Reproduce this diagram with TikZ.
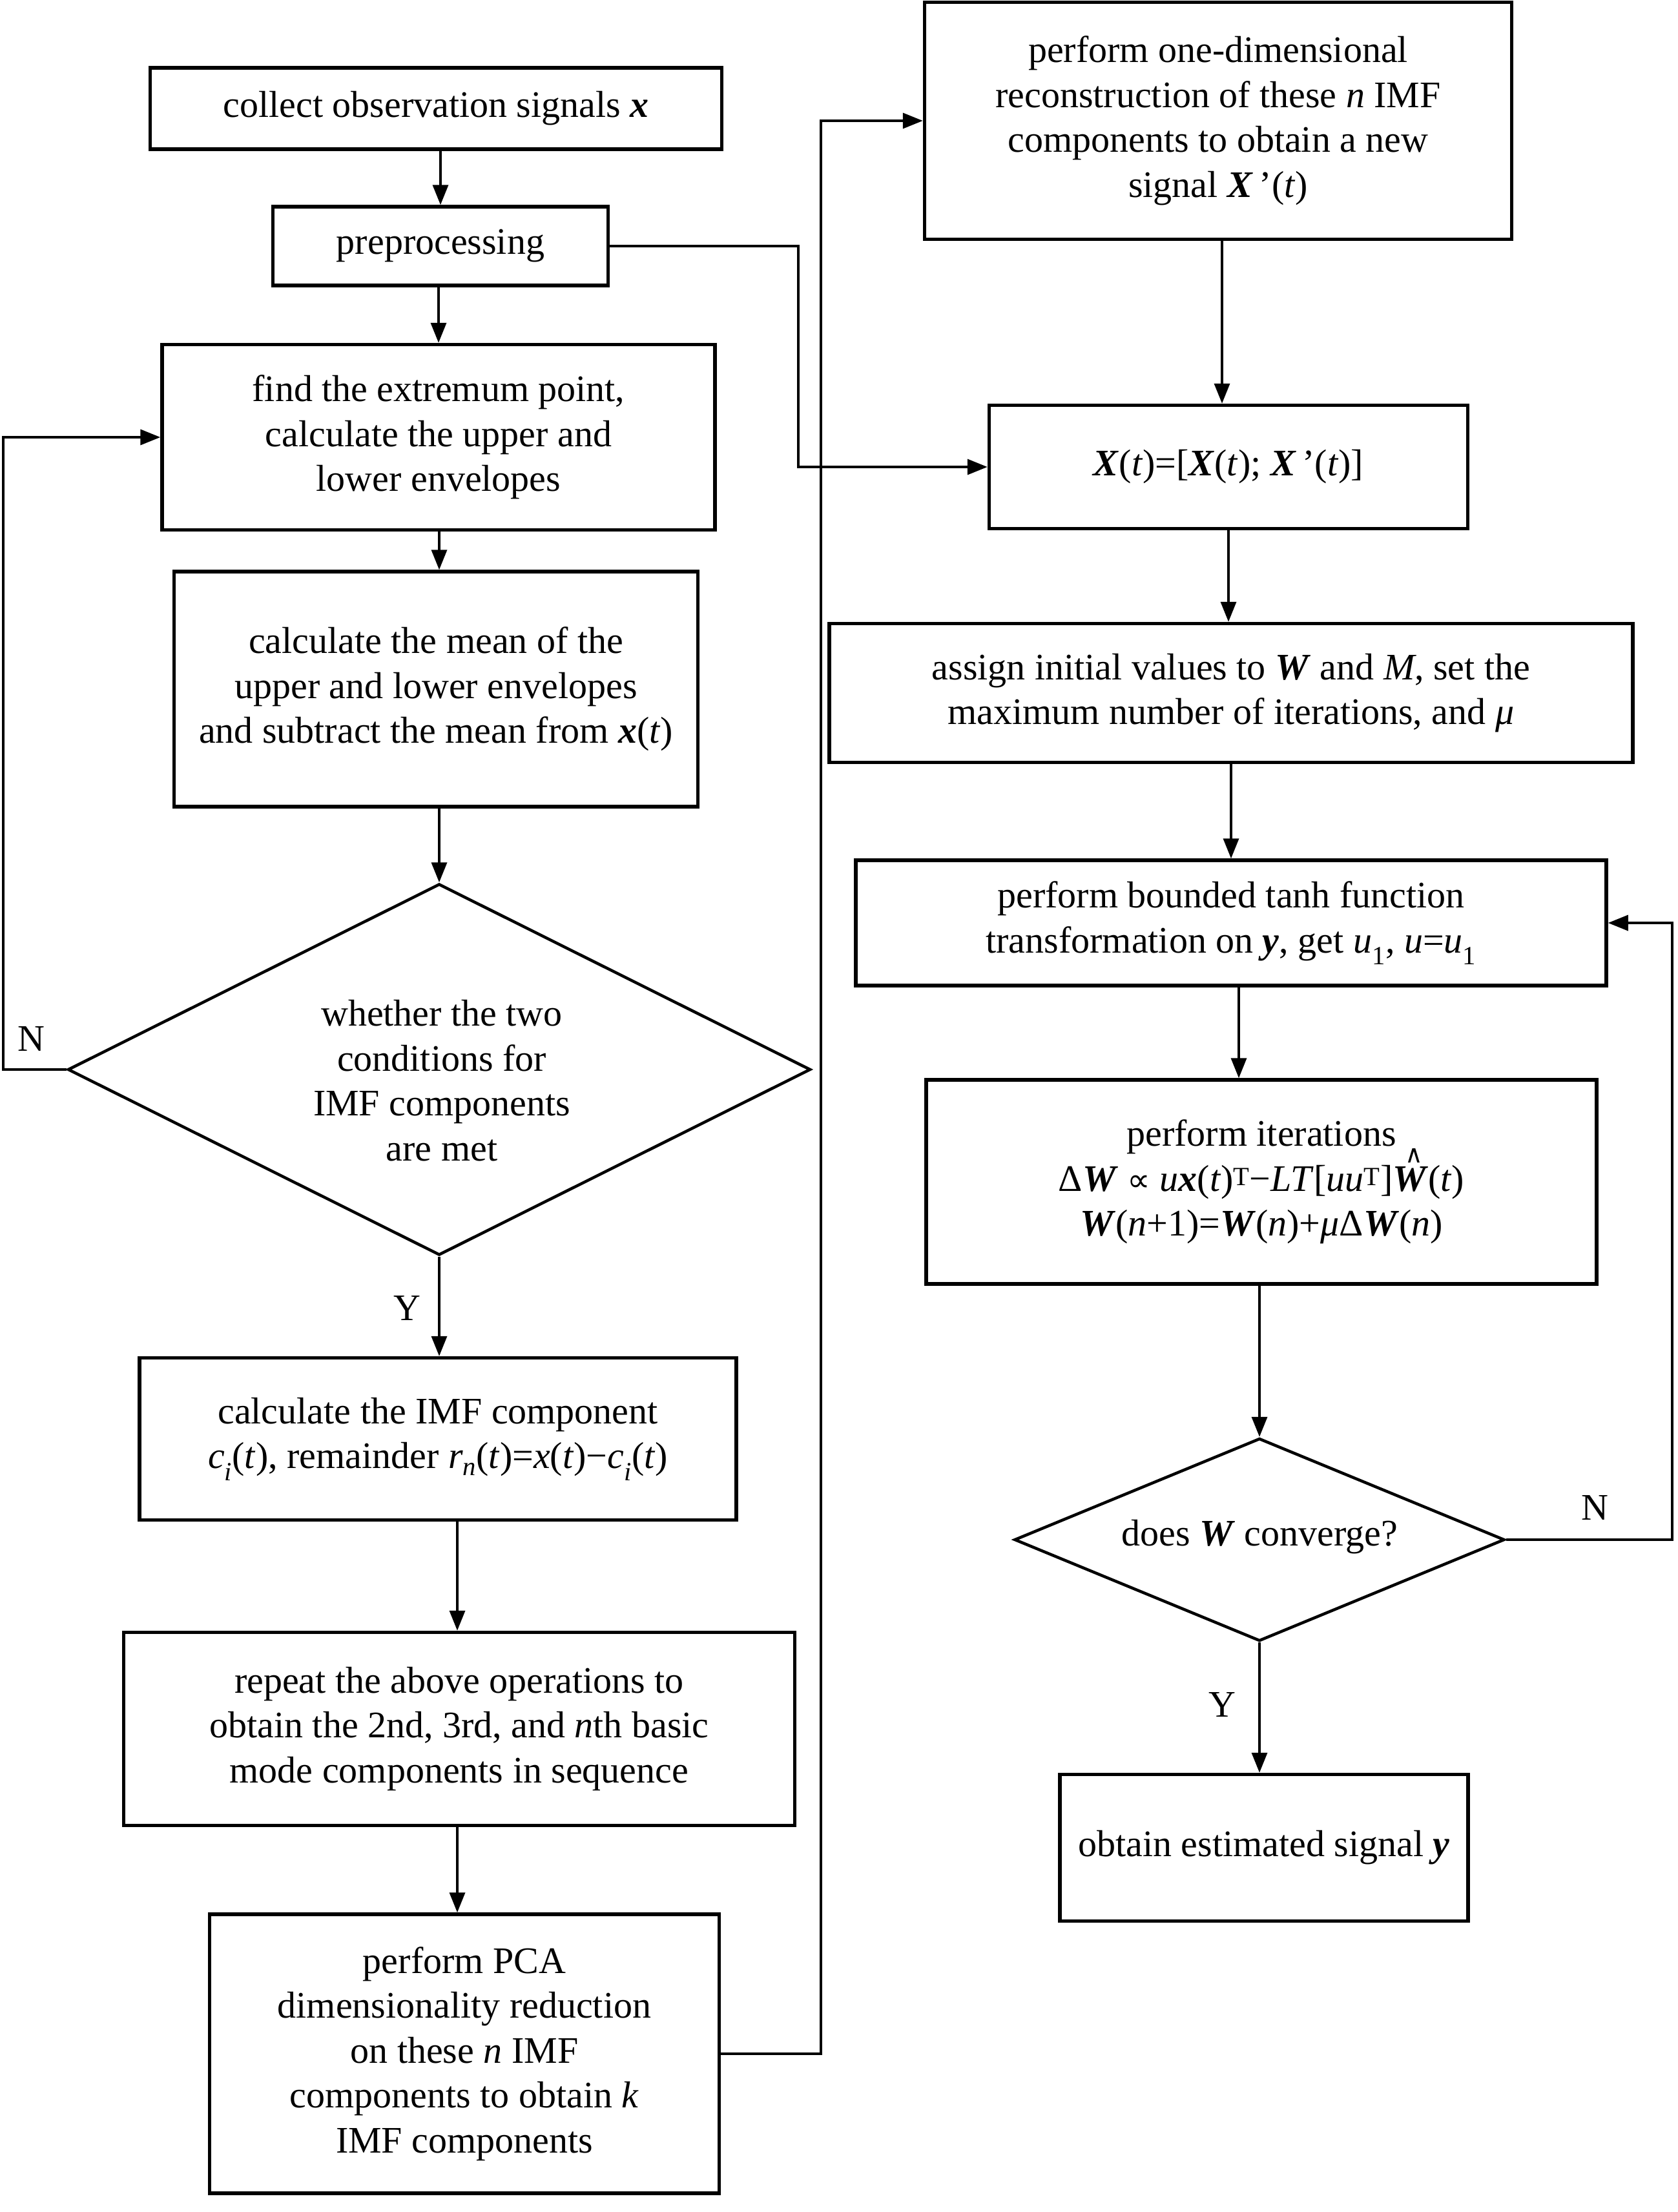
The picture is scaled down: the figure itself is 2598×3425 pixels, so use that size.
\documentclass[tikz,border=0pt]{standalone}
\usepackage{fontspec}
\setmainfont{Liberation Serif}
\newfontfamily\symf{DejaVu Sans}
\usetikzlibrary{arrows.meta,shapes.geometric}
\newcommand\bi[1]{\textbf{\textit{#1}}}
\newcommand\itl[1]{\textit{#1}}
\newcommand\hatW{\rlap{\raisebox{44pt}[0pt][0pt]{\hspace{19pt}\fontsize{38}{38}\symf ∧}}\bi{W}}
\begin{document}
\begin{tikzpicture}[x=1pt,y=-1pt,
  txt/.style={font=\fontsize{58}{69.5}\selectfont},
  box/.style={txt, draw, line width=5.5pt, rectangle, align=center, inner sep=0pt},
  dec/.style={draw, line width=4.5pt, diamond, inner sep=0pt},
  arr/.style={line width=3.5pt, -{Triangle[length=31pt,width=24pt]}},
  lab/.style={txt, inner sep=0pt, align=center}]
\useasboundingbox (0,0) rectangle (2598,3425);
\fill[white] (0,0) rectangle (2598,3425);
% left column
\node[box, minimum width=885pt, minimum height=126pt] (b1) at (675,168) {collect observation signals \bi{x}};
\node[box, minimum width=519pt, minimum height=122pt] (b2) at (682,381) {preprocessing};
\node[box, minimum width=856pt, minimum height=287pt] (b3) at (679,677) {find the extremum point,\\calculate the upper and\\lower envelopes};
\node[box, minimum width=811pt, minimum height=364pt] (b4) at (675,1067) {calculate the mean of the\\upper and lower envelopes\\and subtract the mean from \bi{x}(\itl{t})};
\node[dec, shape aspect=2, minimum width=1150pt, minimum height=575pt] (d1) at (680,1656) {};
\node[lab] (d1t) at (684,1673) {whether the two\\conditions for\\IMF components\\are met};
\node[box, minimum width=924pt, minimum height=251pt] (b5) at (678,2228) {calculate the IMF component\\\itl{c}\textsubscript{\itl{i}}(\itl{t}), remainder \itl{r}\textsubscript{\itl{n}}(\itl{t})=\itl{x}(\itl{t})−\itl{c}\textsubscript{\itl{i}}(\itl{t})};
\node[box, minimum width=1039pt, minimum height=299pt] (b6) at (711,2677) {repeat the above operations to\\obtain the 2nd, 3rd, and \itl{n}th basic\\mode components in sequence};
\node[box, minimum width=789pt, minimum height=432pt] (b7) at (719,3180) {perform PCA\\dimensionality reduction\\on these \itl{n} IMF\\components to obtain \itl{k}\\IMF components};
% right column
\node[box, minimum width=909pt, minimum height=367pt] (r1) at (1886,187) {perform one-dimensional\\reconstruction of these \itl{n} IMF\\components to obtain a new\\signal \bi{X}\,’(\itl{t})};
\node[box, minimum width=741pt, minimum height=191pt] (r2) at (1902,723) {\bi{X}(\itl{t})=[\bi{X}(\itl{t}); \bi{X}\,’(\itl{t})]};
\node[box, minimum width=1244pt, minimum height=215pt] (r3) at (1906,1073) {assign initial values to \bi{W} and \itl{M}, set the\\maximum number of iterations, and \itl{μ}};
\node[box, minimum width=1162pt, minimum height=194pt] (r4) at (1906,1429) {perform bounded tanh function\\transformation on \bi{y}, get \itl{u}\textsubscript{1}, \itl{u}=\itl{u}\textsubscript{1}};
\node[box, minimum width=1038pt, minimum height=316pt] (r5) at (1953,1830) {perform iterations\\Δ\bi{W} {\fontsize{50}{50}\symf ∝} \itl{u}\bi{x}(\itl{t})\textsuperscript{T}−\itl{LT}[\itl{uu}\textsuperscript{T}]\hatW(\itl{t})\\\bi{W}(\itl{n}+1)=\bi{W}(\itl{n})+\itl{μ}Δ\bi{W}(\itl{n})};
\node[dec, shape aspect=2.4, minimum width=759pt, minimum height=314pt] (d2) at (1950,2384) {};
\node[lab] (d2t) at (1950,2380) {does \bi{W} converge?};
\node[box, minimum width=632pt, minimum height=227pt] (r6) at (1957,2861) {obtain estimated signal \bi{y}};
% labels
\node[lab] (nl) at (48,1608) {N};
\node[lab] (yl) at (630,2025) {Y};
\node[lab] (nr) at (2469,2334) {N};
\node[lab] (yr) at (1892,2639) {Y};
% helper coordinates
\coordinate (cl) at (5,0);
\coordinate (cm1) at (1236,0);
\coordinate (cm2) at (1271,0);
\coordinate (cr) at (2589,0);
% left connectors
\draw[arr] (b1.south -| b2.north) -- (b2.north);
\draw[arr] (b2.south -| b3.north) -- (b3.north);
\draw[arr] (b3.south -| d1.north) -- (b4.north -| d1.north);
\draw[arr] (b4.south -| d1.north) -- (d1.north);
\draw[arr] (d1.west) -- (d1.west -| cl) |- (b3.west);
\draw[arr] (d1.south) -- (d1.south |- b5.north);
\draw[arr] ([xshift=30pt]b5.south) -- ([xshift=30pt]b5.south |- b6.north);
\draw[arr] ([xshift=-3pt]b6.south) -- ([xshift=-3pt]b6.south |- b7.north);
% cross connectors
\draw[arr] (b2.east) -- (b2.east -| cm1) |- (r2.west);
\draw[arr] (b7.east) -- (b7.east -| cm2) |- (r1.west);
% right connectors
\draw[arr] ([xshift=6pt]r1.south) -- ([xshift=6pt]r1.south |- r2.north);
\draw[arr] (r2.south) -- (r2.south |- r3.north);
\draw[arr] (r3.south) -- (r3.south |- r4.north);
\draw[arr] ([xshift=12pt]r4.south) -- ([xshift=12pt]r4.south |- r5.north);
\draw[arr] (r5.south -| d2.north) -- (d2.north);
\draw[arr] (d2.south) -- (d2.south |- r6.north);
\draw[arr] (d2.east) -- (d2.east -| cr) |- (r4.east);
\end{tikzpicture}
\end{document}
